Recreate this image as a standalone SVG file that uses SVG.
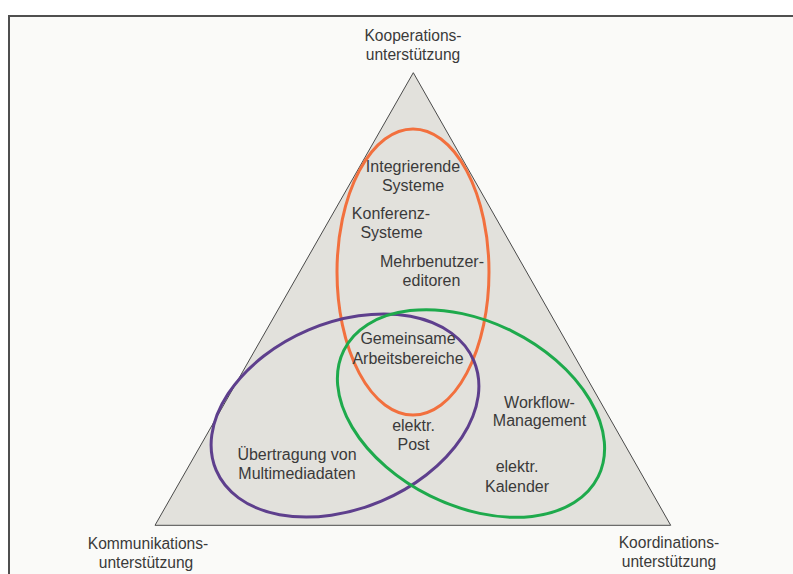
<svg xmlns="http://www.w3.org/2000/svg" width="793" height="574" viewBox="0 0 793 574">
<style>
text{font-family:"Liberation Sans",Arial,sans-serif;font-size:16px;fill:#3a3a3a;text-anchor:middle}
.corner{font-size:15.6px}
.ell{fill:none;stroke-width:3}
</style>
<rect width="793" height="574" fill="#ffffff"/>
<rect x="9" y="16" width="800" height="570" fill="#fafaf8"/>
<path d="M9 574V16H793" fill="none" stroke="#4f4f4f" stroke-width="2"/>
<g id="triangle">
<polygon points="413.3,72.7 155,525.3 670.7,525.3" fill="#e2e1dc" stroke="#4a4a4a" stroke-width="1"/>
</g>
<g id="connectors">
<ellipse id="orange" class="ell" cx="413" cy="272" rx="76" ry="143" stroke="#f2703e"/>
<ellipse id="purple" class="ell" cx="345" cy="415.5" rx="140" ry="93" transform="rotate(-23 345 415.5)" stroke="#5e3f8d"/>
<ellipse id="green" class="ell" cx="471" cy="413.5" rx="142" ry="92" transform="rotate(26.4 471 413.5)" stroke="#1eaa4c"/>
</g>
<g id="kooperation"><text class="corner" x="413" y="41">Kooperations-</text><text class="corner" x="413" y="60">unterstützung</text></g>
<g id="kommunikation"><text class="corner" x="148" y="549">Kommunikations-</text><text class="corner" x="146" y="568">unterstützung</text></g>
<g id="koordination"><text class="corner" x="669" y="548">Koordinations-</text><text class="corner" x="669" y="567">unterstützung</text></g>
<g id="integrierende"><text x="413" y="172">Integrierende</text><text x="413" y="191">Systeme</text></g>
<g id="konferenz"><text x="391" y="219">Konferenz-</text><text x="391.5" y="238">Systeme</text></g>
<g id="mehrbenutzer"><text x="432" y="267">Mehrbenutzer-</text><text x="431.5" y="286">editoren</text></g>
<g id="gemeinsame"><text x="408" y="344">Gemeinsame</text><text x="408" y="364">Arbeitsbereiche</text></g>
<g id="post"><text x="413.5" y="431">elektr.</text><text x="413.5" y="450">Post</text></g>
<g id="workflow"><text x="539.5" y="408">Workflow-</text><text x="539.5" y="426">Management</text></g>
<g id="kalender"><text x="517" y="472">elektr.</text><text x="517" y="492">Kalender</text></g>
<g id="multimedia"><text x="297" y="460">Übertragung von</text><text x="297" y="479">Multimediadaten</text></g>
</svg>
